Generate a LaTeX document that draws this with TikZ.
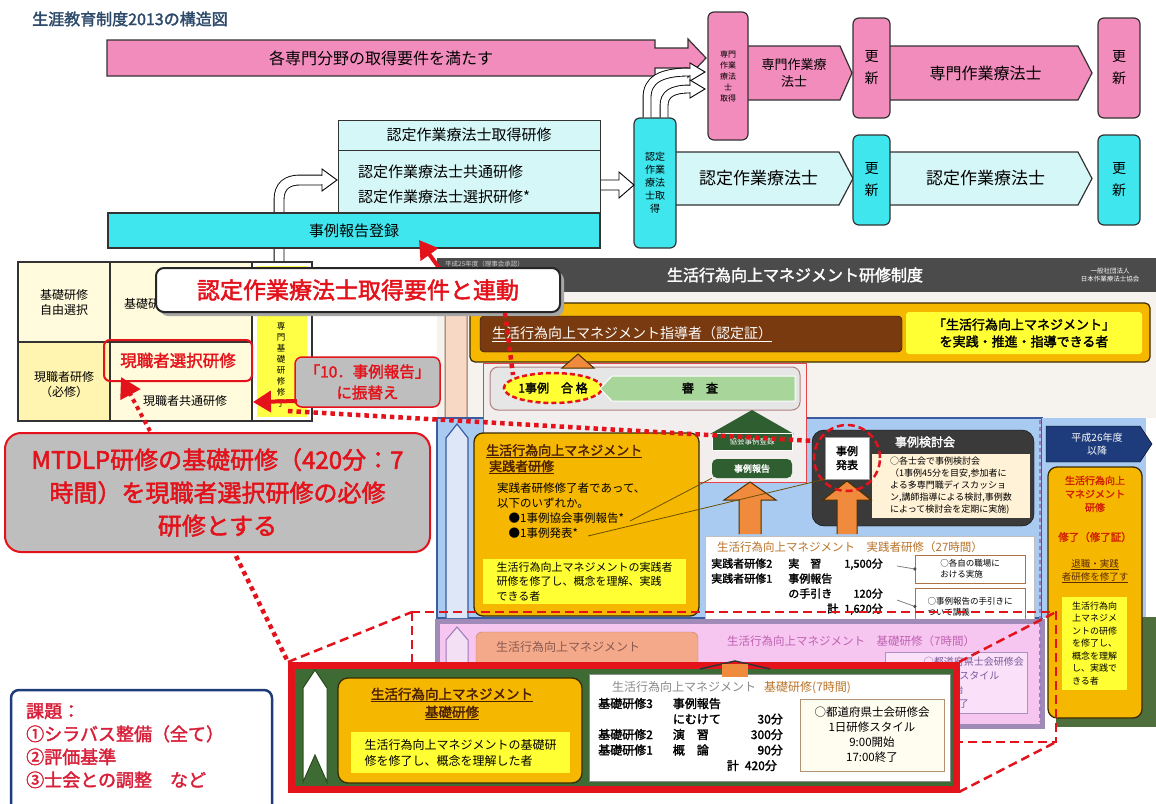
\documentclass[tikz,border=0pt]{standalone}
\usepackage{fontspec}
\setmainfont{Noto Sans CJK JP}
\newfontfamily\jpb[FakeBold=2]{Noto Sans CJK JP}
\usetikzlibrary{shapes.geometric,arrows.meta,calc}
\definecolor{pinkF}{HTML}{F28CBC}
\definecolor{cyanF}{HTML}{3FE6EE}
\definecolor{lcyan}{HTML}{D6F7F8}
\definecolor{titlec}{HTML}{2E4A6A}
\definecolor{redc}{HTML}{E3121B}
\definecolor{grayc}{HTML}{BEBEBE}
\definecolor{hdr}{HTML}{4B4B4B}
\definecolor{brownc}{HTML}{7A3A10}
\definecolor{goldc}{HTML}{F6B700}
\definecolor{yel}{HTML}{FFFF33}
\definecolor{lgreen}{HTML}{A8D69A}
\definecolor{dgreen}{HTML}{2F5E30}
\definecolor{lblue}{HTML}{A9CBF2}
\definecolor{bluebd}{HTML}{3B5C9E}
\definecolor{pinkreg}{HTML}{F6C6F1}
\definecolor{purbd}{HTML}{9C7CC0}
\definecolor{navy}{HTML}{1E3C7C}
\definecolor{orgc}{HTML}{F08A3C}
\definecolor{tyel1}{HTML}{FFFBDC}
\definecolor{tyel2}{HTML}{FFF4B0}
\definecolor{tyel3}{HTML}{FFFF45}
\definecolor{beige}{HTML}{FFF2D6}
\definecolor{panel}{HTML}{F6F2EE}
\definecolor{fgreen}{HTML}{3E6B33}
\definecolor{salmon}{HTML}{F3A98A}
\definecolor{txtbrown}{HTML}{B8742A}
\definecolor{darkbox}{HTML}{3A3A3A}
\definecolor{arrbeige}{HTML}{F6D8C4}
\definecolor{arrbeigebd}{HTML}{8A6A50}
\definecolor{gbox}{HTML}{E6E6E6}
\definecolor{gboxbd}{HTML}{B08080}
\definecolor{orgbd}{HTML}{4A3000}
\definecolor{darkbd}{HTML}{3A2A00}
\definecolor{titbrown}{HTML}{4A2000}
\definecolor{bluewhite}{HTML}{DDE7F7}
\definecolor{sbbd}{HTML}{B07040}
\definecolor{ptxt}{HTML}{C060B0}
\definecolor{pinkarr}{HTML}{F4E0F4}
\definecolor{pinkarrbd}{HTML}{9A7AB8}
\definecolor{salmonbd}{HTML}{C08070}
\definecolor{salmontxt}{HTML}{8A5A50}
\definecolor{pbox2}{HTML}{FBE0FA}
\definecolor{pbox2bd}{HTML}{B090C0}
\definecolor{pbox2txt}{HTML}{7A5A9A}
\definecolor{rtxt}{HTML}{D02000}
\definecolor{rtxt2}{HTML}{5A2A00}
\definecolor{shadowg}{HTML}{4E6E3C}
\definecolor{fgarrbd}{HTML}{2A4A20}
\definecolor{graytxt}{HTML}{8A8A8A}
\definecolor{bboxf}{HTML}{FFFCF0}
\definecolor{bboxbd}{HTML}{B09070}
\definecolor{kadaitxt}{HTML}{D8203A}
\definecolor{reglight}{HTML}{F2EEEE}
\definecolor{purbd2}{HTML}{A08AB8}
\definecolor{linegold}{HTML}{6A5000}
\newcommand{\fsz}[2]{\fontsize{#1}{#2}\selectfont}
\newcommand{\rb}[7]{\node[#6, minimum width={(#4-#2)*1pt}, minimum height={(#5-#3)*1pt}] (#1) at ({(#2+#4)/2},{(#3+#5)/2}) {#7};}
\newcommand{\pent}[9]{\draw[#7] (#2,#3) -- ({#4-#6},#3) -- (#4,{(#3+#5)/2}) -- ({#4-#6},#5) -- (#2,#5) -- cycle; \node[#8] (#1) at ({(#2+#4-#6)/2+4},{(#3+#5)/2}) {#9};}
\tikzset{
 pbox/.style={draw=black!80, line width=1.2pt, fill=pinkF, rounded corners=6pt},
 cbox/.style={draw=black!80, line width=1.2pt, fill=cyanF, rounded corners=6pt},
 ppath/.style={draw=black!80, line width=1.2pt, fill=pinkF},
 cpath/.style={draw=black!80, line width=1.2pt, fill=lcyan},
 hollow/.style={draw=black, line width=.9pt, fill=white},
 dblw/.style={draw=black, line width=.9pt, double=white},
 reddot/.style={draw=redc, line width=4.5pt, dash pattern=on 4.5pt off 4pt},
 reddash/.style={draw=redc, line width=2.5pt, dash pattern=on 9pt off 5pt},
 redarr/.style={draw=redc, line width=4pt, -{Triangle[length=18pt,width=21pt]}},
 orarrow/.style={fill=orgc, draw=orgbd, line width=1pt}
}
\begin{document}
\begin{tikzpicture}[x=1pt,y=-1pt, every node/.style={inner sep=0pt, align=center}]
\useasboundingbox (0,0) rectangle (1156,803);
\fill[white] (0,0) rectangle (1156,803);

% ---------- title ----------
\node[anchor=west, text=titlec, font=\jpb\fsz{16}{18}] (title) at (32,19) {生涯教育制度2013の構造図};

% ---------- pink row ----------
\draw[ppath] (107,40) -- (655,40) -- (655,48) -- (688,48) -- (688,39) -- (706,58) -- (688,77) -- (688,68) -- (655,68) -- (655,76) -- (107,76) -- cycle;
\node[font=\fsz{16}{18}] (req) at (381,58) {各専門分野の取得要件を満たす};
\pent{sp1}{740}{46}{852}{100}{12}{ppath}{font=\fsz{13}{17}}{専門作業療\\法士}
\pent{sp2}{885}{46}{1092}{100}{14}{ppath}{font=\fsz{16}{18}}{専門作業療法士}
\rb{spget}{708}{12}{748}{140}{pbox, font=\fsz{8}{11}}{専門\\作業\\療法\\士\\取得}
\rb{ren1}{853}{18}{890}{118}{pbox, font=\fsz{14}{22}}{更\\新}
\rb{ren2}{1098}{18}{1140}{118}{pbox, font=\fsz{14}{22}}{更\\新}

% ---------- cyan row ----------
\pent{ct1}{670}{152}{853}{205}{14}{cpath}{font=\fsz{17}{20}}{認定作業療法士}
\pent{ct2}{885}{152}{1092}{205}{14}{cpath}{font=\fsz{17}{20}}{認定作業療法士}
\rb{ctget}{634}{118}{676}{248}{cbox, font=\fsz{10}{13}}{認定\\作業\\療法\\士取\\得}
\rb{ren3}{853}{135}{890}{225}{cbox, font=\fsz{14}{22}}{更\\新}
\rb{ren4}{1098}{135}{1140}{225}{cbox, font=\fsz{14}{22}}{更\\新}

% curved hollow arrows ctget -> spget
\draw[dblw, double distance=7pt] ($(ctget.north)+(-8,0)$) -- (647,98) .. controls (647,80) and (660,72) .. (690,72);
\draw[hollow] (690,63) -- (705,72) -- (690,81) -- cycle;
\fill[white] (689,68.7) rectangle (691.5,75.3);
\draw[dblw, double distance=7pt] ($(ctget.north)+(9,0)$) -- (664,106) .. controls (664,94) and (672,89) .. (690,89);
\draw[hollow] (690,80) -- (705,89) -- (690,98) -- cycle;
\fill[white] (689,85.7) rectangle (691.5,92.3);

% ---------- certification training box ----------
\rb{cth}{338}{120}{600}{150}{draw=black!80, line width=1pt, fill=lcyan, font=\fsz{15}{18}}{認定作業療法士取得研修}
\rb{ctb}{338}{150}{600}{215}{draw=black!80, line width=1pt, fill=lcyan}{}
\node[anchor=west, font=\fsz{15}{18}] (ctb1) at (358,172) {認定作業療法士共通研修};
\node[anchor=west, font=\fsz{15}{18}] (ctb2) at (358,197) {認定作業療法士選択研修*};
\draw[hollow] (601,180) -- (619,180) -- (619,172) -- (634,185) -- (619,198) -- (619,190) -- (601,190);

% hollow arrow from table to certification box
\draw[dblw, double distance=9pt] (279,262) -- (279,200) .. controls (279,186) and (287,180) .. (300,180) -- (322,180);
\draw[hollow] (322,169) -- (337,180) -- (322,191) -- cycle;
\fill[white] (321,175.6) rectangle (323.5,184.4);

\rb{reg}{108}{213}{600}{248}{draw=black!80, line width=1.2pt, fill=cyanF, font=\fsz{15}{18}}{事例報告登録}

% ---------- embedded slide ----------
\fill[panel] (437,292) rectangle (1156,418);
\fill[hdr] (437,258) rectangle (1156,292);
\node[text=white, font=\jpb\fsz{16}{18}] (shdr) at (795,275) {生活行為向上マネジメント研修制度};
\node[text=white!80!black, font=\fsz{6.5}{8}, anchor=west] (sdate) at (445,264) {平成25年度（理事会承認）};
\node[text=white, font=\fsz{6.5}{8.5}] (sorg) at (1110,275) {一般社団法人\\日本作業療法士協会};
\draw[draw=arrbeigebd, fill=arrbeige, line width=1pt] (445,418) -- (445,310) -- (456,296) -- (467,310) -- (467,418);

\draw[fill=goldc, draw=darkbd, line width=1.2pt, rounded corners=5pt] (470,303) rectangle (1150,362);
\draw[fill=brownc, rounded corners=4pt] (480,316) rectangle (902,352);
\node[anchor=west, text=white, font=\fsz{14}{16}] (mtdlp) at (492,334) {\underline{生活行為向上マネジメント指導者（認定証）}};
\rb{mtdlpr}{906}{312}{1142}{354}{fill=yel, rounded corners=3pt, font=\jpb\fsz{13}{17}}{「生活行為向上マネジメント」\\を実践・推進・指導できる者}

% blue region
\draw[fill=lblue, draw=bluebd, line width=1.5pt] (437,418) rectangle (1042,618);
\fill[lblue] (1042,418) rectangle (1146,618);
\draw[fill=reglight, draw=redc!80, line width=1pt] (483,363) rectangle (806,482);
\draw[fill=gbox, draw=gboxbd, line width=1pt, rounded corners=8pt] (490,367) rectangle (800,410);
\node[ellipse, draw=redc, line width=2.5pt, dash pattern=on 5pt off 3pt, fill=yel, minimum width=84pt, minimum height=30pt, font=\jpb\fsz{12}{14}] (pass) at (553,388) {1事例　合 格};
\draw[fill=lgreen, draw=white, line width=1pt] (612,376) -- (795,376) -- (795,401) -- (612,401) -- (600,388.5) -- cycle;
\node[font=\jpb\fsz{12}{14}] (shinsa) at (700,388) {審　査};
\draw[orarrow] (562,368) -- (578,354) -- (594,368) -- cycle;

\draw[fill=bluewhite, draw=bluebd, line width=1.2pt] (446,618) -- (446,438) -- (457,424) -- (468,438) -- (468,618);

% practitioner training
\draw[fill=goldc, draw=darkbd, line width=1.3pt, rounded corners=9pt] (474,433) rectangle (699,616);
\node[anchor=north west, align=left, text=titbrown, font=\jpb\fsz{13}{16}] (prt) at (486,444) {\underline{生活行為向上マネジメント}\\\ \underline{実践者研修}};
\node[anchor=north west, align=left, font=\fsz{11.5}{15}] (prb) at (497,483) {実践者研修修了者であって、\\以下のいずれか。\\\quad ●1事例協会事例報告*\\\quad ●1事例発表*};
\rb{pry}{483}{559}{686}{604}{fill=yel, align=left, font=\fsz{11}{14.5}}{生活行為向上マネジメントの実践者\\研修を修了し、概念を理解、実践\\できる者}

% case study meeting
\draw[fill=darkbox, rounded corners=12pt] (812,430) rectangle (1034,526);
\node[text=white, font=\jpb\fsz{12}{14}] (kentou) at (925,442) {事例検討会};
\rb{kbody}{872}{454}{1030}{518}{fill=beige, font=\fsz{9}{12}, align=left}{○各士会で事例検討会\\（1事例45分を目安,参加者に\\よる多専門職ディスカッショ\\ン,講師指導による検討,事例数\\によって検討会を定期に実施)}

% house
\fill[dgreen] (710,434) -- (752,410) -- (794,434) -- cycle;
\rb{hb1}{712}{433}{792}{450}{fill=dgreen, draw=white, line width=.8pt, text=white, font=\fsz{7.5}{9}}{協会事例登録}
\rb{hb2}{712}{459}{792}{478}{fill=dgreen, rounded corners=5pt, text=white, font=\jpb\fsz{9}{11}}{事例報告}
\draw[orarrow] (739,534) -- (739,500) -- (724,500) -- (750,482) -- (776,500) -- (761,500) -- (761,534);
\draw[orarrow] (837,534) -- (837,500) -- (823,500) -- (847,481) -- (871,500) -- (857,500) -- (857,534);
\rb{happyo}{825}{437}{869}{479}{fill=white, draw=black!40, font=\jpb\fsz{11}{14}}{事例\\発表}
\draw[redc, line width=2.5pt, dash pattern=on 7pt off 4pt] (happyo.center) circle (33pt);

% practitioner hours box
\draw[fill=white, draw=black!25] (705,536) rectangle (1034,628);
\node[anchor=west, text=txtbrown, font=\fsz{11.5}{13}] (prt2) at (717,547) {生活行為向上マネジメント　実践者研修（27時間）};
\node[anchor=north west, font=\jpb\fsz{11}{15}] (prtab) at (711,557) {\begin{tabular}{@{}l@{\hspace{16pt}}l@{\hspace{12pt}}r@{}}実践者研修2 & 実　習 & 1,500分\\ 実践者研修1 & 事例報告 & \\ & の手引き & 120分\\ & \multicolumn{1}{r}{計} & 1,620分\end{tabular}};
\rb{sb1}{915}{555}{1025}{583}{fill=white, draw=sbbd, font=\fsz{8.5}{11}, align=left}{○各自の職場に\\おける実施}
\rb{sb2}{915}{588}{1025}{625}{fill=white, draw=sbbd, font=\fsz{8.5}{11}, align=left}{○事例報告の手引きに\\ついて講義}
\draw[black!50, line width=.8pt] (897,566) -- (sb1.west);
\fill[black!70] (sb1.west) circle (1.8);
\draw[black!50, line width=.8pt] (897,600) -- (sb2.west);
\fill[black!70] (sb2.west) circle (1.8);

\draw[linegold, line width=.8pt] (630,521) -- (hb2.south west);
\draw[linegold, line width=.8pt] (588,536) -- (happyo.south west);

% basic training (background)
\draw[fill=pinkreg, draw=purbd2, line width=5pt] (437,621) rectangle (1042,726);
\draw[fill=pinkarr, draw=pinkarrbd, line width=1pt] (446,724) -- (446,640) -- (457,627) -- (468,640) -- (468,724);
\draw[fill=salmon, draw=salmonbd, rounded corners=6pt] (476,632) rectangle (698,700);
\node[text=salmontxt, font=\fsz{12}{14}] (bsalmon) at (568,647) {生活行為向上マネジメント};
\node[anchor=west, text=ptxt, font=\fsz{11.5}{13}] (bpink) at (727,641) {生活行為向上マネジメント　基礎研修（7時間）};
\draw[fill=pbox2, draw=pbox2bd] (885,652) rectangle (1027,713);
\node[anchor=east, align=left, text=pbox2txt, font=\fsz{10}{14}] (bpbox) at (1024,683) {○都道府県士会研修会\\1日研修スタイル\\9:00開始\\17:00終了};
\draw[purbd, line width=2pt, dash pattern=on 4pt off 3pt] (1040,420) -- (1040,722);

% right column
\pent{h26}{1046}{426}{1152}{462}{12}{fill=navy}{text=white, font=\fsz{10}{13}}{平成26年度\\以降}
\fill[shadowg] (1056,617) rectangle (1156,727);
\draw[fill=goldc, draw=darkbd, line width=1.3pt, rounded corners=9pt] (1048,467) rectangle (1142,718);
\node[text=rtxt, font=\jpb\fsz{10}{13.5}] (r1) at (1095,494) {生活行為向上\\マネジメント\\研修};
\node[text=rtxt, font=\jpb\fsz{10.5}{13}] (r2) at (1095,537) {修了（修了証）};
\node[text=rtxt2, font=\fsz{9.5}{13}] (r3) at (1095,571) {\underline{退職・実践}\\\underline{者研修を修了す}};
\rb{ryel}{1062}{597}{1127}{690}{fill=yel, font=\fsz{9}{12.5}, align=left}{生活行為向\\上マネジメ\\ントの研修\\を修了し、\\概念を理解\\し、実践で\\きる者}

% ---------- left table ----------
\fill[tyel1] (18,262) rectangle (252,342);
\fill[tyel2] (18,342) rectangle (110,421);
\fill[tyel1] (110,342) rectangle (252,421);
\fill[tyel3] (257,266) rectangle (307,417);
\draw[black!80, line width=1.2pt] (18,262) rectangle (312,421);
\draw[black!80, line width=1.2pt] (110,262) -- (110,421);
\draw[black!80, line width=1.2pt] (252,262) -- (252,421);
\draw[black!80, line width=1.2pt] (18,342) -- (252,342);
\node[font=\fsz{12}{15}] (t11) at (64,302) {基礎研修\\自由選択};
\node[font=\fsz{12}{15}] (t21) at (64,385) {現職者研修\\（必修）};
\node[anchor=west, font=\fsz{12}{15}] (t12) at (124,304) {基礎研修};
\node[font=\fsz{12}{15}] (t22b) at (185,401) {現職者共通研修};
\node[font=\fsz{8.5}{11}] (t13) at (281,365) {専\\門\\基\\礎\\研\\修\\修\\了};
\rb{t22a}{104}{340}{252}{381}{draw=redc, line width=2pt, rounded corners=6pt, text=redc, font=\jpb\fsz{16.5}{18}}{現職者選択研修}

% ---------- zoom indicator and foreground ----------
\draw[reddash] (412,612) rectangle (1056,742);
\draw[draw=redc, line width=7pt, fill=fgreen] (291,665) rectangle (956,789);
\coordinate (fgnw) at (288,662);
\coordinate (fgne) at (959,662);
\coordinate (fgse) at (959,792);
\draw[reddash] (fgnw) -- (412,612);
\draw[reddash] (fgne) -- (1056,612);
\draw[reddash] (fgse) -- (1056,742);
\draw[fill=white, draw=fgarrbd, line width=1pt] (303,782) -- (303,688) -- (315,670) -- (327,688) -- (327,782) -- (315,755) -- cycle;
\draw[fill=goldc, draw=darkbd, line width=1.3pt, rounded corners=10pt] (338,678) rectangle (582,783);
\node[text=titbrown, font=\jpb\fsz{13.5}{18}] (bt) at (452,704) {\underline{生活行為向上マネジメント}\\\underline{基礎研修}};
\rb{byel}{351}{732}{570}{773}{fill=yel, align=left, font=\fsz{12}{16}}{生活行為向上マネジメントの基礎研\\修を修了し、概念を理解した者}
\draw[fill=white, draw=black!45] (589,674) rectangle (950,781);
\node[anchor=west, font=\fsz{12}{14}] (bwt) at (612,688) {\textcolor{graytxt}{生活行為向上マネジメント}\hspace{8pt}\textcolor{txtbrown}{基礎研修(7時間)}};
\node[anchor=north west, font=\jpb\fsz{12}{15.5}] (btab) at (598,697) {\begin{tabular}{@{}l@{\hspace{20pt}}l@{\hspace{30pt}}r@{}}基礎研修3 & 事例報告 & \\ & にむけて & 30分\\ 基礎研修2 & 演　習 & 300分\\ 基礎研修1 & 概　論 & 90分\\ & \multicolumn{2}{r}{計\hspace{6pt}420分}\end{tabular}};
\rb{bbox}{800}{699}{944}{771}{fill=bboxf, draw=bboxbd, line width=1pt, font=\fsz{11.5}{15}}{○都道府県士会研修会\\1日研修スタイル\\9:00開始\\17:00終了}
\draw[black!80, line width=1.5pt] (700,669) -- (735,661) -- (770,669);
\fill[orgc] (722,664) rectangle (748,677);

% ---------- callouts ----------
\draw[redarr] (442,272) -- (419,240);
\fill[black!35, rounded corners=8pt] (160,272) rectangle (564,316);
\rb{cw}{156}{268}{560}{312}{fill=white, draw=black!85, line width=2pt, rounded corners=8pt, text=redc, font=\jpb\fsz{23}{26}}{認定作業療法士取得要件と連動}
\draw[reddot] (505,313) -- (513,375);

\draw[reddot] (288,411) -- (814,441);
\rb{cg2}{295}{357}{440}{407}{fill=grayc, draw=redc, line width=1.5pt, rounded corners=7pt, text=redc, font=\jpb\fsz{15.5}{21}}{「10．事例報告」\\に振替え}
\draw[redarr] (297,401) -- (253,402);

\rb{cbig}{5}{433}{430}{552}{fill=grayc, draw=redc, line width=2pt, rounded corners=16pt, text=redc, font=\jpb\fsz{24}{33}}{MTDLP研修の基礎研修（420分：7\\時間）を現職者選択研修の必修\\研修とする}
\draw[redc, line width=4pt, dash pattern=on 4pt off 4pt, -{Triangle[length=20pt,width=22pt]}] (150,431) -- (121,377);
\draw[reddot] (236,556) -- (fgnw);

% ---------- issues box ----------
\draw[draw=navy, line width=2.5pt, rounded corners=8pt, fill=white] (11,690) rectangle (272,815);
\node[anchor=north west, align=left, text=kadaitxt, font=\jpb\fsz{18}{23}] (kadai) at (26,703) {課題：\\①シラバス整備（全て）\\②評価基準\\③士会との調整　など};
\end{tikzpicture}
\end{document}
